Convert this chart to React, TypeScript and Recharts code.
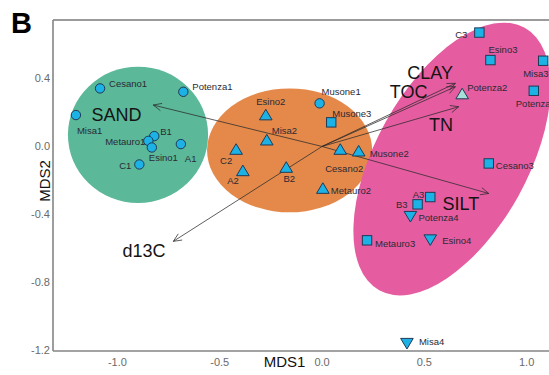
import { ReferenceArea, ReferenceLine, Scatter, ScatterChart, XAxis, YAxis } from "recharts";

const FONT = '"Liberation Sans", Arial, Helvetica, sans-serif';

// NMDS site scores, grouped by plotting symbol
const circleSites = ["Cesano1", "Potenza1", "Misa1", "B1", "Metauro1", "Esino1", "A1", "C1", "Musone1"];
const circleMds1 = [-1.085, -0.678, -1.203, -0.82, -0.849, -0.832, -0.69, -0.893, -0.012];
const circleMds2 = [0.342, 0.322, 0.185, 0.061, 0.033, -0.006, 0.014, -0.106, 0.254];

const triangleSites = ["Esino2", "Misa2", "C2", "A2", "B2", "Cesano2", "Musone2", "Metauro2", "Potenza2"];
const triangleMds1 = [-0.275, -0.27, -0.42, -0.387, -0.175, 0.089, 0.179, 0.004, 0.685];
const triangleMds2 = [0.185, 0.037, -0.018, -0.144, -0.124, -0.018, -0.028, -0.248, 0.309];

const squareSites = ["Musone3", "C3", "Esino3", "Misa3", "Potenza3", "Cesano3", "A3", "B3", "Metauro3"];
const squareMds1 = [0.045, 0.769, 0.823, 1.081, 1.035, 0.815, 0.529, 0.467, 0.22];
const squareMds2 = [0.142, 0.671, 0.509, 0.505, 0.328, -0.1, -0.298, -0.341, -0.553];

const downSites = ["Potenza4", "Esino4", "Misa4"];
const downMds1 = [0.432, 0.529, 0.415];
const downMds2 = [-0.411, -0.549, -1.159];

// fitted environmental vectors (arrow tips) and where their names sit
const vectorNames = ["SAND", "SILT", "CLAY", "TOC", "TN", "d13C"];
const vectorMds1 = [-0.825, 0.815, 0.652, 0.652, 0.668, -0.727];
const vectorMds2 = [0.244, -0.277, 0.372, 0.352, 0.234, -0.559];
const vectorLabelMds1 = [-1.004, 0.679, 0.528, 0.423, 0.582, -0.87];
const vectorLabelMds2 = [0.185, -0.341, 0.431, 0.322, 0.126, -0.618];

// group ellipses: centre and two semi-axis vectors, in MDS units
const hullCenterMds1 = [-0.8995, -0.1585, 0.635];
const hullCenterMds2 = [0.0685, -0.023, -0.074];
const hullAxisA: [number, number][] = [[0.3425, 0], [0.4035, 0], [0.3556, 0.7734]];
const hullAxisB: [number, number][] = [[0, 0.4015], [0, 0.365], [0.325, -0.2172]];
const hullColors = ["#5bb899", "#e4894a", "#e55ca0"];

const xTicks = [-1, -0.5, 0, 0.5, 1];
const yTicks = [0.4, 0, -0.4, -0.8, -1.2];
const X_DOMAIN: [number, number] = [-1.315, 1.3];
const Y_DOMAIN: [number, number] = [-1.205, 0.745];

// label offsets (px) from each symbol: dx, dy, anchor
const labelPlacement: Record<string, [number, number, "start" | "middle" | "end"]> = {
  Cesano1: [9, -5, "start"],
  Potenza1: [9, -5, "start"],
  Misa1: [1, 15, "start"],
  B1: [6, -5, "start"],
  Metauro1: [-3, 1, "end"],
  Esino1: [-3, 10, "start"],
  A1: [4, 14, "start"],
  C1: [-8, 1, "end"],
  Musone1: [2, -12, "start"],
  Esino2: [5, -14, "middle"],
  Misa2: [5, -10, "start"],
  C2: [-10, 11, "middle"],
  A2: [-4, 10, "end"],
  B2: [3, 11, "middle"],
  Cesano2: [4, 19, "middle"],
  Musone2: [11, 2, "start"],
  Metauro2: [8, 2, "start"],
  Potenza2: [5, -7, "start"],
  Musone3: [1, -9, "start"],
  C3: [-12, 2, "end"],
  Esino3: [-2, -11, "start"],
  Misa3: [-20, 13, "start"],
  Potenza3: [-18, 13, "start"],
  Cesano3: [7, 2, "start"],
  A3: [-6, -3, "end"],
  B3: [-10, 0, "end"],
  Metauro3: [8, 3, "start"],
  Potenza4: [8, 1, "start"],
  Esino4: [12, 1, "start"],
  Misa4: [12, -2, "start"],
};

const toRows = (sites: string[], xs: number[], ys: number[]) =>
  sites.map((site, i) => ({ site, mds1: xs[i], mds2: ys[i] }));

const circleRows = toRows(circleSites, circleMds1, circleMds2);
const triangleRows = toRows(triangleSites, triangleMds1, triangleMds2);
const squareRows = toRows(squareSites, squareMds1, squareMds2);
const downRows = toRows(downSites, downMds1, downMds2);
const vectorLabelRows = vectorNames.map((name, i) => ({ name, mds1: vectorLabelMds1[i], mds2: vectorLabelMds2[i] }));

const MARK_FILL = "#1cb2e6";
const MARK_STROKE = "#1e3a56";

type Kind = "circle" | "triangle" | "square" | "down";

function siteShape(kind: Kind) {
  return (p: any) => {
    const { cx, cy, payload } = p;
    const fill = payload.site === "Potenza2" ? "#a6dfd8" : MARK_FILL;
    let mark;
    if (kind === "circle") {
      mark = <circle cx={cx} cy={cy} r={4.7} fill={fill} stroke={MARK_STROKE} strokeWidth={1} />;
    } else if (kind === "square") {
      mark = <rect x={cx - 4.7} y={cy - 4.7} width={9.4} height={9.4} fill={fill} stroke={MARK_STROKE} strokeWidth={1} />;
    } else if (kind === "triangle") {
      mark = (
        <path
          d={`M${cx},${cy - 5.8}L${cx + 6.3},${cy + 4.8}L${cx - 6.3},${cy + 4.8}Z`}
          fill={fill}
          stroke={MARK_STROKE}
          strokeWidth={1}
        />
      );
    } else {
      mark = (
        <path
          d={`M${cx},${cy + 5.8}L${cx + 6.3},${cy - 4.8}L${cx - 6.3},${cy - 4.8}Z`}
          fill={fill}
          stroke={MARK_STROKE}
          strokeWidth={1}
        />
      );
    }
    const [dx, dy, anchor] = labelPlacement[payload.site] ?? [8, 0, "start"];
    return (
      <g>
        {mark}
        <text
          x={cx + dx}
          y={cy + dy}
          textAnchor={anchor}
          dominantBaseline="central"
          fontSize={9.5}
          fontFamily={FONT}
          fill="#2a2a33"
        >
          {payload.site}
        </text>
      </g>
    );
  };
}

function hullShape(i: number) {
  return (p: any) => {
    const [ax, ay] = hullAxisA[i];
    const [bx, by] = hullAxisB[i];
    const hx = Math.hypot(ax, bx);
    const hy = Math.hypot(ay, by);
    const sx = p.width / (2 * hx);
    const sy = p.height / (2 * hy);
    const cx = p.x + p.width / 2;
    const cy = p.y + p.height / 2;
    return (
      <circle
        r={1}
        transform={`matrix(${ax * sx} ${-ay * sy} ${bx * sx} ${-by * sy} ${cx} ${cy})`}
        fill={hullColors[i]}
      />
    );
  };
}

function arrowShape(p: any) {
  const { x1, y1, x2, y2 } = p;
  const ang = Math.atan2(y2 - y1, x2 - x1);
  const len = 9;
  const spread = 0.42;
  const ax = x2 - len * Math.cos(ang - spread);
  const ay = y2 - len * Math.sin(ang - spread);
  const bx = x2 - len * Math.cos(ang + spread);
  const by = y2 - len * Math.sin(ang + spread);
  return (
    <g stroke="#2b2b2b" strokeOpacity={0.85} strokeWidth={0.9} fill="none">
      <line x1={x1} y1={y1} x2={x2} y2={y2} />
      <path d={`M${ax},${ay}L${x2},${y2}L${bx},${by}`} />
    </g>
  );
}

function vectorLabel(p: any) {
  return (
    <text
      x={p.cx}
      y={p.cy}
      textAnchor="middle"
      dominantBaseline="central"
      fontSize={18}
      fontFamily={FONT}
      fill="#141414"
    >
      {p.payload.name}
    </text>
  );
}

const tickStyle = { fontSize: 11, fontFamily: FONT, fill: "#6a6a6a" };

export default function App() {
  return (
    <div
      style={{
        position: "fixed",
        left: 0,
        top: 0,
        width: 549,
        height: 375,
        overflow: "hidden",
        background: "#fff",
      }}
    >
      <svg width={60} height={40} style={{ position: "absolute", left: 0, top: 0 }}>
        <text x={11} y={32.5} fontSize={29} fontWeight="bold" fontFamily={FONT} fill="#000">
          B
        </text>
      </svg>
      <svg width={60} height={375} style={{ position: "absolute", left: 0, top: 0 }}>
        <text
          x={50}
          y={181}
          transform="rotate(-90 50 181)"
          textAnchor="middle"
          fontSize={15}
          fontFamily={FONT}
          fill="#111"
        >
          MDS2
        </text>
      </svg>
      <div style={{ position: "absolute", left: 0, top: 0 }}>
        <ScatterChart width={588} height={375} margin={{ top: 20, right: 0, bottom: 0, left: 0 }}>
          {hullCenterMds1.map((c, i) => {
            const hx = Math.hypot(hullAxisA[i][0], hullAxisB[i][0]);
            const hy = Math.hypot(hullAxisA[i][1], hullAxisB[i][1]);
            return (
              <ReferenceArea
                key={`hull-${i}`}
                x1={c - hx}
                x2={c + hx}
                y1={hullCenterMds2[i] - hy}
                y2={hullCenterMds2[i] + hy}
                ifOverflow="visible"
                shape={hullShape(i)}
              />
            );
          })}
          <XAxis
            type="number"
            dataKey="mds1"
            domain={X_DOMAIN}
            ticks={xTicks}
            allowDataOverflow
            height={24}
            tickLine={false}
            tickSize={5}
            tickMargin={2}
            tick={tickStyle}
            tickFormatter={(v: number) => v.toFixed(1)}
            axisLine={{ stroke: "#858585", strokeWidth: 1.6 }}
          />
          <YAxis
            type="number"
            dataKey="mds2"
            domain={Y_DOMAIN}
            ticks={yTicks}
            allowDataOverflow
            width={53}
            tickLine={false}
            tickSize={3}
            tickMargin={0}
            tick={tickStyle}
            tickFormatter={(v: number) => v.toFixed(1)}
            axisLine={{ stroke: "#858585", strokeWidth: 1.6 }}
          />
          <ReferenceLine y={Y_DOMAIN[1]} stroke="#7a7a7a" strokeWidth={1.6} ifOverflow="visible" />
          {vectorNames.map((name, i) => (
            <ReferenceLine
              key={name}
              segment={[
                { x: 0, y: 0 },
                { x: vectorMds1[i], y: vectorMds2[i] },
              ]}
              ifOverflow="visible"
              shape={arrowShape}
            />
          ))}
          <Scatter data={circleRows} shape={siteShape("circle")} isAnimationActive={false} />
          <Scatter data={triangleRows} shape={siteShape("triangle")} isAnimationActive={false} />
          <Scatter data={squareRows} shape={siteShape("square")} isAnimationActive={false} />
          <Scatter data={downRows} shape={siteShape("down")} isAnimationActive={false} />
          <Scatter data={vectorLabelRows} shape={vectorLabel} isAnimationActive={false} />
        </ScatterChart>
      </div>
      <svg width={549} height={375} style={{ position: "absolute", left: 0, top: 0, pointerEvents: "none" }}>
        <text x={284.5} y={367} textAnchor="middle" fontSize={15} fontFamily={FONT} fill="#111">
          MDS1
        </text>
      </svg>
    </div>
  );
}
